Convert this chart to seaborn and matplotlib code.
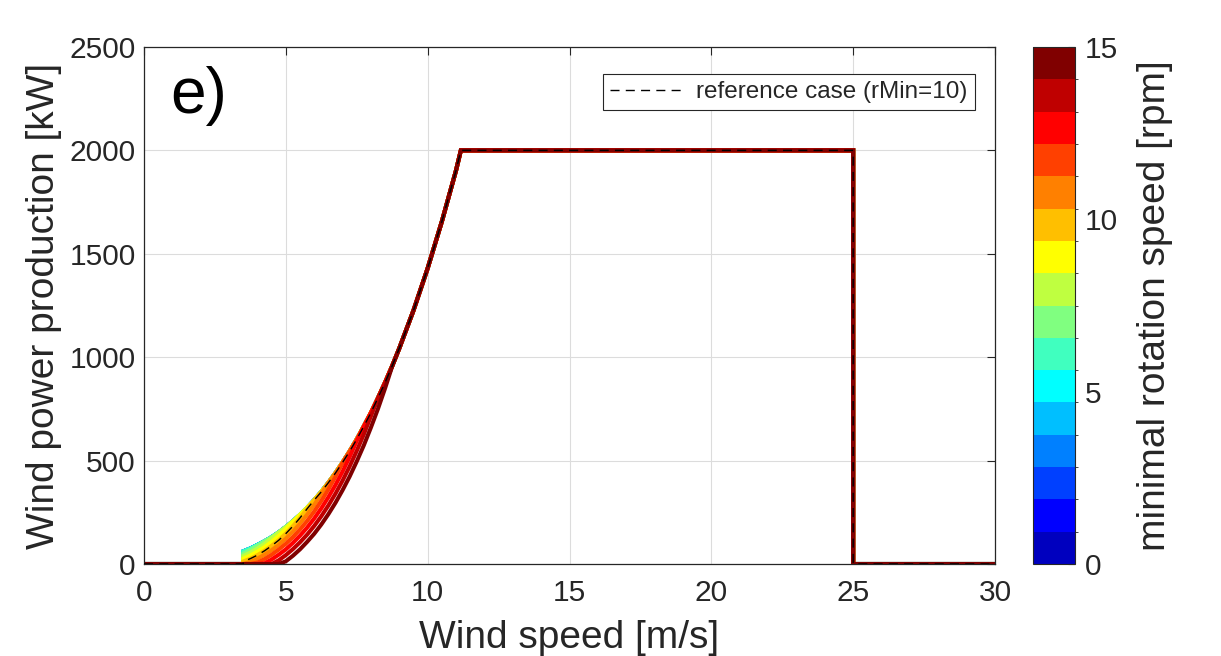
import numpy as np
import pandas as pd
import matplotlib
matplotlib.use("Agg")
import matplotlib.pyplot as plt
from matplotlib.colors import ListedColormap, BoundaryNorm
from matplotlib.cm import ScalarMappable
import seaborn as sns

# ---------------- data ----------------
rmin_values = list(range(16))  # minimal rotation speed [rpm]
reference_rmin = 10

# common head / tail of the power curves
wind_head = [0.0, 3.5]
power_head = [0, 0]
wind_tail = [9.5, 10.0, 10.5, 11.0, 11.17, 25.0, 25.0, 30.0]
power_tail = [1226, 1430, 1656, 1903, 2000, 2000, 0, 0]

# partial-load region
wind_low = [3.5, 3.75, 4.0, 4.25, 4.5, 4.75, 5.0, 5.25, 5.5, 5.75, 6.0, 6.25,
            6.5, 6.75, 7.0, 7.25, 7.5, 7.75, 8.0, 8.25, 8.5, 8.75, 9.0]

power_rmin_0_6 = [61, 75, 92, 110, 130, 153, 179, 207, 238, 272, 309, 349,
                  393, 440, 491, 545, 603, 666, 732, 803, 878, 958, 1043]
power_rmin_7 = [50, 68, 89, 110, 130, 153, 179, 207, 238, 272, 309, 349,
                393, 440, 491, 545, 603, 666, 732, 803, 878, 958, 1043]
power_rmin_8 = [39, 55, 75, 98, 125, 153, 179, 207, 238, 272, 309, 349,
                393, 440, 491, 545, 603, 666, 732, 803, 878, 958, 1043]
power_rmin_9 = [26, 41, 60, 82, 107, 136, 169, 206, 238, 272, 309, 349,
                393, 440, 491, 545, 603, 666, 732, 803, 878, 958, 1043]
power_rmin_10 = [12, 26, 43, 64, 88, 115, 147, 183, 223, 267, 309, 349,
                 393, 440, 491, 545, 603, 666, 732, 803, 878, 958, 1043]
power_rmin_11 = [0, 10, 26, 45, 67, 93, 123, 157, 196, 239, 286, 339,
                 393, 440, 491, 545, 603, 666, 732, 803, 878, 958, 1043]
power_rmin_12 = [0, 0, 7, 24, 45, 70, 98, 130, 167, 208, 254, 305,
                 361, 422, 490, 545, 603, 666, 732, 803, 878, 958, 1043]
power_rmin_13 = [0, 0, 0, 3, 22, 45, 71, 102, 137, 176, 220, 269,
                 323, 382, 447, 518, 595, 666, 732, 803, 878, 958, 1043]
power_rmin_14 = [0, 0, 0, 0, 0, 18, 43, 72, 105, 142, 184, 231,
                 283, 340, 403, 472, 547, 627, 715, 803, 878, 958, 1043]
power_rmin_15 = [0, 0, 0, 0, 0, 0, 13, 40, 71, 107, 146, 191,
                 241, 296, 357, 423, 496, 574, 660, 751, 850, 956, 1043]

low_by_rmin = {r: power_rmin_0_6 for r in range(7)}
low_by_rmin.update({7: power_rmin_7, 8: power_rmin_8, 9: power_rmin_9,
                    10: power_rmin_10, 11: power_rmin_11, 12: power_rmin_12,
                    13: power_rmin_13, 14: power_rmin_14, 15: power_rmin_15})

# MATLAB jet(16)
jet16 = [(0, 0, 0.75), (0, 0, 1), (0, 0.25, 1), (0, 0.5, 1), (0, 0.75, 1),
         (0, 1, 1), (0.25, 1, 0.75), (0.5, 1, 0.5), (0.75, 1, 0.25), (1, 1, 0),
         (1, 0.75, 0), (1, 0.5, 0), (1, 0.25, 0), (1, 0, 0), (0.75, 0, 0),
         (0.5, 0, 0)]

# ---------------- figure ----------------
sns.set_style("white")
plt.rcParams["font.family"] = ["Liberation Sans", "DejaVu Sans"]
text_col = "#262626"

fig = plt.figure(figsize=(12.21, 6.56), dpi=100)
ax = fig.add_axes([144 / 1221, 1 - 564 / 656, 851 / 1221, 517 / 656])

wind_full = wind_head + wind_low + wind_tail
for r in rmin_values:
    df = pd.DataFrame({"wind": wind_full,
                       "power": power_head + low_by_rmin[r] + power_tail})
    sns.lineplot(data=df, x="wind", y="power", estimator=None, sort=False,
                 color=jet16[r], lw=2.9, ax=ax, zorder=2 + r * 0.01,
                 solid_joinstyle="miter")

df_ref = pd.DataFrame({"wind": wind_full,
                       "power": power_head + low_by_rmin[reference_rmin] + power_tail})
sns.lineplot(data=df_ref, x="wind", y="power", estimator=None, sort=False,
             color="black", lw=1.0, ax=ax, zorder=3,
             label="reference case (rMin=10)")
ax.lines[-1].set_dashes([6.5, 4.5])

ax.set_xlim(0, 30)
ax.set_ylim(0, 2500)
ax.set_xticks([0, 5, 10, 15, 20, 25, 30])
ax.set_yticks([0, 500, 1000, 1500, 2000, 2500])
ax.grid(True, color="#dcdcdc", lw=0.8)
ax.set_axisbelow(True)
ax.tick_params(direction="in", length=6, width=0.8, top=True, right=True,
               labelsize=21.5, colors=text_col)
ax.tick_params(axis="x", pad=11)
ax.tick_params(axis="y", pad=6)
for s in ax.spines.values():
    s.set_color(text_col)
    s.set_linewidth(0.9)
ax.set_xlabel("Wind speed [m/s]", fontsize=28, color=text_col, labelpad=9)
ax.set_ylabel("Wind power production [kW]", fontsize=28, color=text_col, labelpad=5)

ax.text(0.031, 0.905, "e)", transform=ax.transAxes, fontsize=46,
        va="center", ha="left", color="black")

leg = ax.legend(loc="upper right", bbox_to_anchor=(0.9765, 0.948), fontsize=17.5,
                frameon=True, fancybox=False, framealpha=1, edgecolor=text_col,
                handlelength=3.1, borderpad=0.3, handletextpad=0.45,
                borderaxespad=0)
leg.get_frame().set_linewidth(0.8)

# colorbar
cmap = ListedColormap(jet16)
norm = BoundaryNorm(np.linspace(0, 15, 17), cmap.N)
cax = fig.add_axes([1033 / 1221, 1 - 564 / 656, 42 / 1221, 517 / 656])
sm = ScalarMappable(norm=norm, cmap=cmap)
cb = fig.colorbar(sm, cax=cax, ticks=[0, 5, 10, 15])
cb.outline.set_edgecolor(text_col)
cb.outline.set_linewidth(0.8)
cax.tick_params(direction="in", length=5, width=0.8, labelsize=21.5,
                colors=text_col, pad=7)
cb.set_label("minimal rotation speed [rpm]", fontsize=28, color=text_col,
             labelpad=14)

fig.savefig("out.png", dpi=100)
